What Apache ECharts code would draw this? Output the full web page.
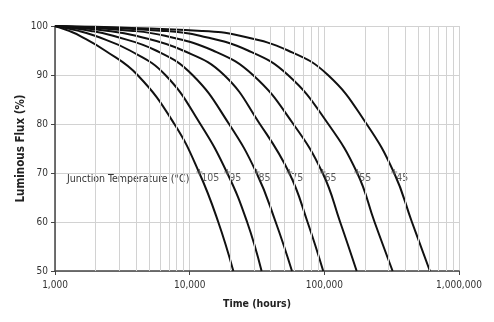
<!DOCTYPE html>
<html>
<head>
<meta charset="utf-8">
<script src="https://cdn.jsdelivr.net/npm/echarts@6/dist/echarts.min.js"></script>
<style>
  html, body { margin: 0; padding: 0; background: #fff; }
  #chart { width: 494px; height: 322px; }
</style>
</head>
<body>
<div id="chart"></div>
<script>
// Lumen maintenance vs. operating time for several LED junction temperatures.
// Each curve lists the hours at which the flux falls to the levels below.
const fluxLevels = [100, 99, 98, 95, 90, 80, 70, 60, 50];

const junctionTemps = [105, 95, 85, 75, 65, 55, 45];

const hoursTj105 = [1000, 1270, 1530, 2350, 4100, 7700, 11800, 16300, 21100];
const hoursTj95  = [1000, 1500, 1980, 3600, 6600, 12000, 19000, 26700, 34200];
const hoursTj85  = [1000, 1850, 2700, 5620, 10500, 19600, 31400, 43500, 57500];
const hoursTj75  = [1000, 2500, 3990, 8920, 18000, 33200, 54900, 75000, 98100];
const hoursTj65  = [1000, 3800, 6560, 14900, 29500, 58800, 97100, 131000, 173800];
const hoursTj55  = [1000, 6400, 11900, 27100, 53700, 106900, 175500, 236000, 321400];
const hoursTj45  = [1000, 12300, 23600, 53700, 106400, 206000, 330000, 447000, 608000];

const hoursByTemp = [hoursTj105, hoursTj95, hoursTj85, hoursTj75, hoursTj65, hoursTj55, hoursTj45];

// Log-scale axis ticks and the in-between grid lines
const xTicks = [1000, 10000, 100000, 1000000];
const xMinorGrid = [2000, 3000, 4000, 5000, 6000, 7000, 8000, 9000,
                    20000, 30000, 40000, 50000, 60000, 70000, 80000, 90000,
                    200000, 300000, 400000, 500000, 600000, 700000, 800000, 900000];

const labelLevel = 70;
const annotationText = 'Junction Temperature (°C)';

const FONT = '"DejaVu Sans Condensed", "DejaVu Sans", sans-serif';

const chart = echarts.init(document.getElementById('chart'), null, { renderer: 'canvas' });

const curveSeries = junctionTemps.map((tj, i) => ({
  name: String(tj),
  type: 'line',
  data: hoursByTemp[i].map((h, k) => [h, fluxLevels[k]]),
  showSymbol: false,
  smooth: 0.45,
  lineStyle: { color: '#111', width: 2 },
  z: 3,
  silent: true
}));

const crossingIndex = fluxLevels.indexOf(labelLevel);
const markerSeries = {
  type: 'scatter',
  data: junctionTemps.map((tj, i) => ({ value: [hoursByTemp[i][crossingIndex], labelLevel], name: String(tj) })),
  symbol: 'path://M2,0h1v5h-1z M0,2h5v1h-5z',
  symbolSize: 6,
  symbolOffset: [0, -1],
  itemStyle: { color: '#555' },
  label: {
    show: true,
    formatter: p => p.name,
    position: [5, 4],
    align: 'left',
    verticalAlign: 'top',
    color: '#333',
    fontFamily: FONT,
    fontSize: 10.5
  },
  z: 4,
  silent: true
};

const gridSeries = {
  type: 'line',
  data: [[1000, 100]],
  showSymbol: false,
  lineStyle: { width: 0, opacity: 0 },
  z: 1,
  silent: true,
  markLine: {
    silent: true,
    symbol: ['none', 'none'],
    label: { show: false },
    animation: false,
    lineStyle: { color: '#d2d2d2', width: 1, type: 'solid' },
    data: xMinorGrid.map(v => ({ xAxis: v }))
  }
};

chart.setOption({
  animation: false,
  backgroundColor: '#fff',
  grid: { left: 55, right: 35, top: 26, bottom: 51 },
  xAxis: {
    type: 'log',
    logBase: 10,
    min: xTicks[0],
    max: xTicks[xTicks.length - 1],
    name: 'Time (hours)',
    nameLocation: 'middle',
    nameGap: 28,
    nameMoveOverlap: false,
    nameTextStyle: { fontFamily: FONT, fontWeight: 'bold', fontSize: 10.5, color: '#222' },
    axisLine: { show: true, lineStyle: { color: '#444', width: 1.5 } },
    axisTick: { show: true, length: 4, lineStyle: { color: '#444' } },
    axisLabel: {
      margin: 9,
      color: '#333',
      fontFamily: FONT,
      fontSize: 10,
      formatter: v => Number(v).toLocaleString('en-US')
    },
    splitLine: { show: true, lineStyle: { color: '#d2d2d2', width: 1 } },
    minorTick: { show: false },
    minorSplitLine: { show: false }
  },
  yAxis: {
    type: 'value',
    min: 50,
    max: 100,
    interval: 10,
    name: 'Luminous Flux (%)',
    nameLocation: 'middle',
    nameGap: 28,
    nameMoveOverlap: false,
    nameTextStyle: { fontFamily: FONT, fontWeight: 'bold', fontSize: 11.5, color: '#222' },
    axisLine: { show: true, lineStyle: { color: '#444', width: 1.5 } },
    axisTick: { show: true, length: 4, lineStyle: { color: '#444' } },
    axisLabel: { margin: 7, color: '#333', fontFamily: FONT, fontSize: 10 },
    splitLine: { show: true, lineStyle: { color: '#d2d2d2', width: 1 } }
  },
  graphic: [{
    type: 'text',
    left: 67,
    top: 174,
    style: { text: annotationText, fill: '#333', font: '10.5px ' + FONT }
  }],
  series: [gridSeries, ...curveSeries, markerSeries]
});
</script>
</body>
</html>
